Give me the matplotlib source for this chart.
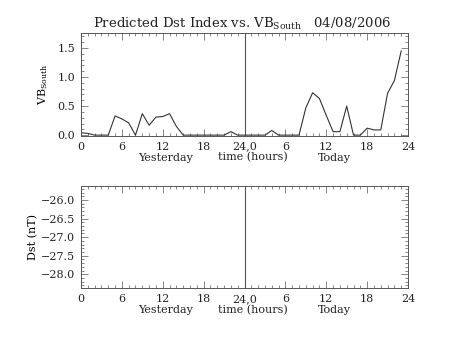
import matplotlib
matplotlib.use('Agg')
import matplotlib.pyplot as plt
from matplotlib.ticker import MultipleLocator, FixedLocator
import numpy as np

# hourly southward field, yesterday 0-23 then today 0-23
vb_yesterday = [0.04, 0.03, 0.0, 0.0, 0.0, 0.33, 0.28, 0.21, 0.0, 0.37, 0.17, 0.31,
                0.32, 0.37, 0.15, 0.0, 0.0, 0.0, 0.0, 0.0, 0.0, 0.0, 0.06, 0.0]
vb_today = [0.0, 0.0, 0.0, 0.0, 0.08, 0.0, 0.0, 0.0, 0.0, 0.47, 0.73, 0.63,
            0.34, 0.06, 0.06, 0.50, 0.0, 0.0, 0.12, 0.09, 0.09, 0.72, 0.94, 1.45]
hours = np.arange(48)
vb = vb_yesterday + vb_today

xtick_pos = [0, 6, 12, 18, 24, 30, 36, 42, 48]
xtick_lab = ['0', '6', '12', '18', '24,0', '6', '12', '18', '24']

plt.rcParams['font.family'] = ['DejaVu Serif']
plt.rcParams['mathtext.fontset'] = 'dejavuserif'
plt.rcParams['font.size'] = 8
plt.rcParams['text.color'] = '#222222'
plt.rcParams['xtick.labelcolor'] = '#222222'
plt.rcParams['ytick.labelcolor'] = '#222222'
axis_col = '#555555'

fig = plt.figure(figsize=(4.53, 3.4), dpi=100)
ax1 = fig.add_axes([0.1788, 0.600, 0.7219, 0.3015])
ax2 = fig.add_axes([0.1788, 0.152, 0.7219, 0.301])


def style_axis(ax):
    ax.set_xlim(0, 48)
    ax.xaxis.set_major_locator(FixedLocator(xtick_pos))
    ax.set_xticklabels(xtick_lab)
    ax.xaxis.set_minor_locator(MultipleLocator(1))
    ax.tick_params(which='both', direction='in', top=True, right=True,
                   color=axis_col, width=0.5, pad=4)
    ax.tick_params(which='major', length=5)
    ax.tick_params(which='minor', length=2.5)
    for s in ax.spines.values():
        s.set_color(axis_col)
        s.set_linewidth(0.7)
    ax.axvline(24, color=axis_col, lw=0.8)
    tr = ax.get_xaxis_transform()
    ax.text(12.4, -0.21, 'Yesterday', transform=tr, ha='center', va='center')
    ax.text(25.3, -0.21, 'time (hours)', transform=tr, ha='center', va='center')
    ax.text(37.2, -0.21, 'Today', transform=tr, ha='center', va='center')


# VB south panel
style_axis(ax1)
ax1.plot(hours, vb, color='#333333', lw=0.8)
ax1.set_ylim(-0.015, 1.75)
ax1.yaxis.set_major_locator(MultipleLocator(0.5))
ax1.yaxis.set_minor_locator(MultipleLocator(0.1))
ax1.yaxis.set_major_formatter('{x:.1f}')
ax1.set_ylabel(r'VB$_{\rm South}$')
ax1.yaxis.set_label_coords(-0.095, 0.5)

# Dst panel
style_axis(ax2)
ax2.set_ylim(-28.38, -25.62)
ax2.yaxis.set_major_locator(MultipleLocator(0.5))
ax2.yaxis.set_minor_locator(MultipleLocator(0.1))
ax2.yaxis.set_major_formatter('{x:.1f}')
ax2.set_ylabel('Dst (nT)')
ax2.yaxis.set_label_coords(-0.131, 0.5)

fig.text(0.534, 0.9185, r'Predicted Dst Index vs. VB$_{\rm South}$   04/08/2006',
         ha='center', va='baseline', fontsize=9.5)

fig.savefig('out.png', dpi=100)
